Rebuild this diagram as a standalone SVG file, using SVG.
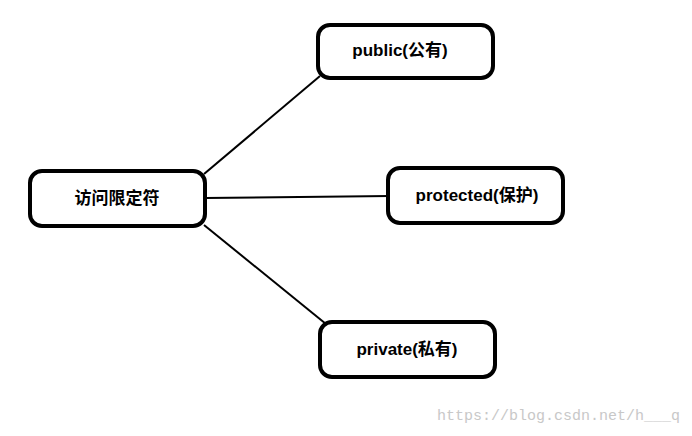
<svg xmlns="http://www.w3.org/2000/svg" width="692" height="436" viewBox="0 0 692 436">
<style>
.box{fill:#fff;stroke:#000;stroke-width:4}
.t{font-family:"Liberation Sans","Noto Sans CJK SC",sans-serif;font-weight:bold;font-size:17px;fill:#000}
.c{stroke:#000;stroke-width:2;fill:none}
</style>
<rect width="692" height="436" fill="#fff"/>
<g id="connectors">
<line class="c" x1="204" y1="174" x2="320" y2="76"/>
<line class="c" x1="205" y1="198" x2="390" y2="196"/>
<line class="c" x1="204" y1="225" x2="326" y2="324"/>
</g>
<g id="root"><rect class="box" x="30" y="171" width="175" height="55" rx="12"/><text class="t" x="117" y="204" text-anchor="middle">访问限定符</text></g>
<g id="public"><rect class="box" x="318" y="25" width="175" height="53" rx="12"/><text class="t" x="400" y="56" text-anchor="middle">public(公有)</text></g>
<g id="protected"><rect class="box" x="388" y="168" width="175" height="55" rx="12"/><text class="t" x="477" y="201" text-anchor="middle">protected(保护)</text></g>
<g id="private"><rect class="box" x="320" y="322" width="175" height="55" rx="12"/><text class="t" x="407" y="355" text-anchor="middle">private(私有)</text></g>
<text x="680" y="420" text-anchor="end" font-family="Liberation Mono,monospace" font-size="15" fill="#c8c8c8">https://blog.csdn.net/h___q</text>
</svg>
